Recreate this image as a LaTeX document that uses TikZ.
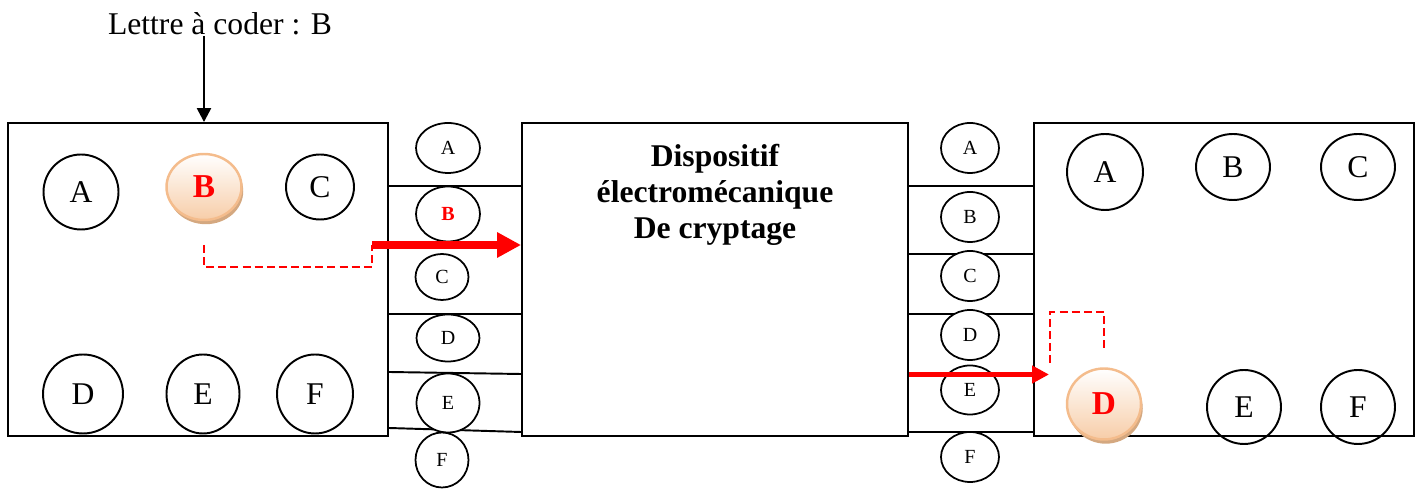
\documentclass[tikz,border=0pt]{standalone}
\usepackage{fontspec}
\setmainfont{Liberation Serif}
\usepackage{tikz}
\usetikzlibrary{arrows.meta,shapes.geometric,shadows}
\definecolor{coinBot}{RGB}{247,205,168}
\definecolor{coinEdge}{RGB}{244,188,140}
\definecolor{coinShade}{RGB}{212,168,128}

\begin{document}
\begin{tikzpicture}[x=0.02cm, y=-0.02cm,
      box/.style={draw, line width=1.1pt, inner sep=0pt,
                  minimum height=6.26cm},
      coin/.style={ellipse, draw, line width=1.1pt, inner sep=0pt,
                   font=\fontsize{18}{20}\selectfont},
      coinHit/.style={ellipse, draw=coinEdge, line width=1.4pt, inner sep=0pt,
                      top color=white, bottom color=coinBot, text=red,
                      font=\fontsize{19}{21}\selectfont\bfseries,
                      drop shadow={shadow xshift=1pt, shadow yshift=-2.4pt,
                                   fill=coinShade, opacity=1}},
      pin/.style={ellipse, draw, fill=white, line width=1pt, inner sep=0pt,
                  font=\fontsize{11.4}{13}\selectfont},
      wire/.style={line width=1.1pt},
      arrK/.style={-{Triangle[length=0.28cm, width=0.28cm]}, line width=1.4pt},
      arrR/.style={-{Triangle[length=0.48cm, width=0.48cm]}, red, line width=4.5pt},
      arrRs/.style={-{Triangle[length=0.34cm, width=0.34cm]}, red, line width=3.1pt},
      dashR/.style={red, line width=1pt, dash pattern=on 4.5pt off 2.4pt},
    ]
    \useasboundingbox (0,0) rectangle (1421,502);

    \node[font=\fontsize{18}{20}\selectfont, inner sep=0pt, anchor=base] (title) at (220,35) {Lettre à coder : B};

    \node[box, minimum width=7.6cm]  (bL)  at (198,279.5)  {};
    \node[box, minimum width=7.72cm] (mid) at (715,279.5)  {};
    \node[box, minimum width=7.6cm]  (bR)  at (1224,279.5) {};
    \node[font=\fontsize{18}{20.5}\selectfont\bfseries, align=center, inner sep=0pt, anchor=north] (midTxt) at (715,144) {Dispositif\\électromécanique\\De cryptage};

    \draw[wire] (bL.east |- 0,186) -- (mid.west |- 0,186);
    \draw[wire] (bL.east |- 0,314) -- (mid.west |- 0,314);
    \draw[wire] (bL.east |- 0,372) -- (mid.west |- 0,374);
    \draw[wire] (bL.east |- 0,428) -- (mid.west |- 0,432);
    \draw[wire] (mid.east |- 0,186) -- (bR.west |- 0,186);
    \draw[wire] (mid.east |- 0,254) -- (bR.west |- 0,254);
    \draw[wire] (mid.east |- 0,314) -- (bR.west |- 0,314);
    \draw[wire] (mid.east |- 0,432) -- (bR.west |- 0,432);

    \node[pin, minimum width=1.28cm, minimum height=1cm]    (pLA) at (448,148) {A};
    \node[pin, minimum width=1.28cm, minimum height=1.1cm, text=red, font=\fontsize{11.4}{13}\selectfont\bfseries] (pLB) at (448,214) {B};
    \node[pin, minimum width=1.06cm, minimum height=0.92cm] (pLC) at (442,277) {C};
    \node[pin, minimum width=1.26cm, minimum height=0.94cm] (pLD) at (448,338) {D};
    \node[pin, minimum width=1.26cm, minimum height=1.18cm] (pLE) at (448,403) {E};
    \node[pin, minimum width=1.06cm, minimum height=1.1cm]  (pLF) at (442,460) {F};

    \node[pin, minimum width=1.16cm, minimum height=1cm] (pRA) at (970,148) {A};
    \node[pin, minimum width=1.16cm, minimum height=1cm] (pRB) at (970,217) {B};
    \node[pin, minimum width=1.16cm, minimum height=1cm] (pRC) at (970,276) {C};
    \node[pin, minimum width=1.16cm, minimum height=1cm] (pRD) at (970,335) {D};
    \node[pin, minimum width=1.16cm, minimum height=0.98cm] (pRE) at (970,390) {E};
    \node[pin, minimum width=1.16cm, minimum height=1cm] (pRF) at (970,457) {F};

    \node[coin, minimum width=1.5cm, minimum height=1.5cm]     (lA) at (81,192)  {A};
    \node[coinHit, minimum width=1.5cm, minimum height=1.32cm] (lB) at (204,187) {B};
    \node[coin, minimum width=1.36cm, minimum height=1.3cm]    (lC) at (320,187) {C};
    \node[coin, minimum width=1.6cm, minimum height=1.58cm]    (lD) at (83,394)  {D};
    \node[coin, minimum width=1.46cm, minimum height=1.58cm]   (lE) at (203,394) {E};
    \node[coin, minimum width=1.52cm, minimum height=1.58cm]   (lF) at (315,394) {F};

    \node[coin, minimum width=1.52cm, minimum height=1.52cm]   (rA) at (1105,172) {A};
    \node[coin, minimum width=1.48cm, minimum height=1.32cm]   (rB) at (1233,167) {B};
    \node[coin, minimum width=1.48cm, minimum height=1.32cm]   (rC) at (1358,167) {C};
    \node[coinHit, minimum width=1.48cm, minimum height=1.42cm] (rD) at (1104,404) {D};
    \node[coin, minimum width=1.48cm, minimum height=1.48cm]   (rE) at (1244,407) {E};
    \node[coin, minimum width=1.48cm, minimum height=1.48cm]   (rF) at (1358,407) {F};

    \coordinate (kL) at (372,245);
    \coordinate (kR) at (1049,374.5);

    \draw[arrK] (title.south -| lB) -- (lB |- bL.north);
    \draw[dashR] (lB |- 0,245) -- (lB |- 0,267) -| (kL);
    \draw[arrR] (kL) -- (kL -| mid.west);
    \draw[arrRs] (mid.east |- kR) -- (kR);
    \draw[dashR] (1050,363) |- (rD |- 0,312) -- (rD |- 0,352);
  \end{tikzpicture}
\end{document}
